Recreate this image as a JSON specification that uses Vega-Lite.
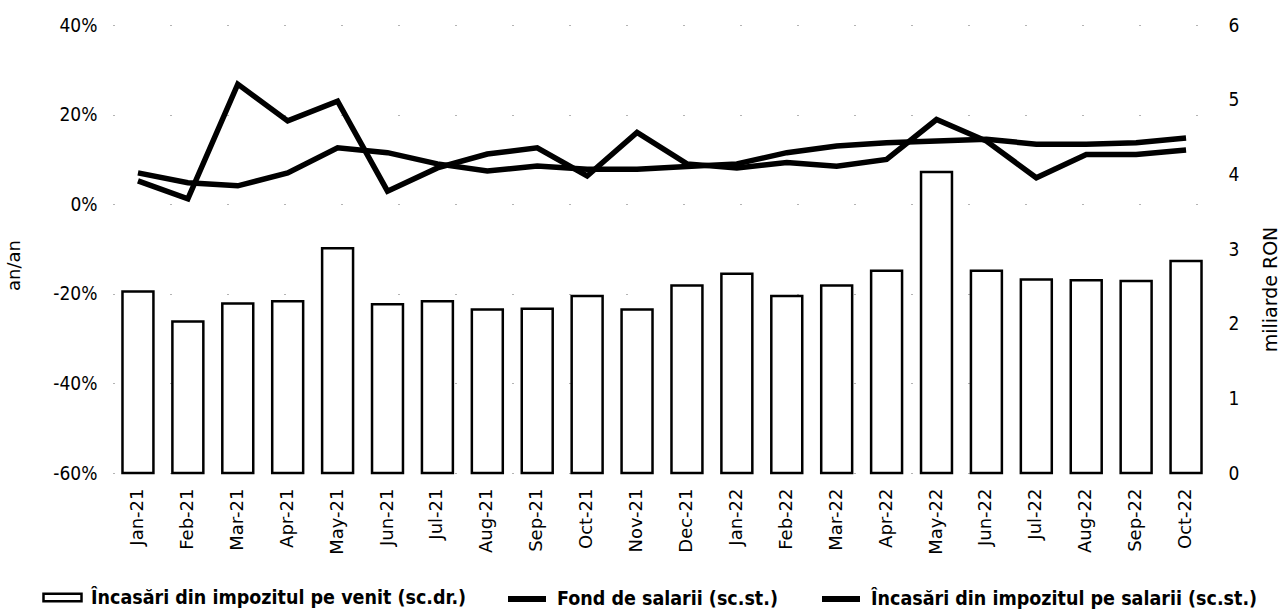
{
  "$schema": "https://vega.github.io/schema/vega-lite/v6.json",
  "description": "Încasări din impozitul pe venit și pe salarii, fond de salarii",
  "width": 1098,
  "height": 448,
  "autosize": {"type": "none"},
  "padding": {"left": 113, "top": 25, "right": 69, "bottom": 138},
  "background": "white",
  "config": {
    "view": {"stroke": null},
    "font": "DejaVu Sans Condensed",
    "legend": {
      "orient": "none",
      "direction": "horizontal",
      "columnPadding": 32,
      "symbolSize": 1444,
      "labelFont": "DejaVu Sans Condensed",
      "labelFontSize": 19.5,
      "labelFontWeight": "bold",
      "labelColor": "black",
      "labelLimit": 0,
      "labelOffset": 8
    }
  },
  "data": {
    "values": [
      {"luna": "Jan-21", "venit": 2.43, "fond": 7.0, "salarii": 5.2},
      {"luna": "Feb-21", "venit": 2.03, "fond": 4.8, "salarii": 1.2},
      {"luna": "Mar-21", "venit": 2.27, "fond": 4.1, "salarii": 26.8},
      {"luna": "Apr-21", "venit": 2.30, "fond": 7.0, "salarii": 18.6},
      {"luna": "May-21", "venit": 3.01, "fond": 12.6, "salarii": 23.0},
      {"luna": "Jun-21", "venit": 2.26, "fond": 11.5, "salarii": 2.9},
      {"luna": "Jul-21", "venit": 2.30, "fond": 9.0, "salarii": 8.1},
      {"luna": "Aug-21", "venit": 2.19, "fond": 7.4, "salarii": 11.2},
      {"luna": "Sep-21", "venit": 2.20, "fond": 8.5, "salarii": 12.6},
      {"luna": "Oct-21", "venit": 2.37, "fond": 7.8, "salarii": 6.3},
      {"luna": "Nov-21", "venit": 2.19, "fond": 7.8, "salarii": 16.0},
      {"luna": "Dec-21", "venit": 2.51, "fond": 8.4, "salarii": 9.0},
      {"luna": "Jan-22", "venit": 2.67, "fond": 9.0, "salarii": 8.1},
      {"luna": "Feb-22", "venit": 2.37, "fond": 11.5, "salarii": 9.3},
      {"luna": "Mar-22", "venit": 2.51, "fond": 13.0, "salarii": 8.5},
      {"luna": "Apr-22", "venit": 2.71, "fond": 13.7, "salarii": 10.0},
      {"luna": "May-22", "venit": 4.03, "fond": 14.1, "salarii": 18.9},
      {"luna": "Jun-22", "venit": 2.71, "fond": 14.5, "salarii": 14.1},
      {"luna": "Jul-22", "venit": 2.59, "fond": 13.4, "salarii": 5.9},
      {"luna": "Aug-22", "venit": 2.58, "fond": 13.4, "salarii": 11.1},
      {"luna": "Sep-22", "venit": 2.57, "fond": 13.7, "salarii": 11.1},
      {"luna": "Oct-22", "venit": 2.84, "fond": 14.8, "salarii": 12.1}
    ]
  },
  "encoding": {
    "x": {
      "field": "luna",
      "type": "nominal",
      "sort": null,
      "scale": {"paddingInner": 0.38, "paddingOuter": 0.19},
      "axis": {
        "title": null,
        "labelAngle": -90,
        "labelFont": "DejaVu Sans",
        "labelFontSize": 18,
        "labelColor": "black",
        "labelPadding": 15,
        "ticks": false,
        "domain": false,
        "grid": false
      }
    }
  },
  "layer": [
    {
      "mark": {"type": "bar", "stroke": "black", "strokeWidth": 2.5},
      "encoding": {
        "y": {
          "field": "venit",
          "type": "quantitative",
          "scale": {"domain": [0, 6], "nice": false},
          "axis": {
            "orient": "right",
            "values": [0, 1, 2, 3, 4, 5, 6],
            "title": "miliarde RON",
            "titleFont": "DejaVu Sans",
            "titleFontSize": 19,
            "titleFontWeight": "normal",
            "titleColor": "black",
            "titleAngle": -90,
            "titleAlign": "center",
            "titleBaseline": "middle",
            "titleX": 59,
            "titleY": 264,
            "labelFont": "DejaVu Sans Condensed",
            "labelFontSize": 19,
            "labelColor": "black",
            "labelPadding": 17,
            "ticks": false,
            "domain": false,
            "grid": false
          }
        },
        "fill": {
          "datum": "Încasări din impozitul pe venit (sc.dr.)",
          "scale": {"range": ["white"]},
          "legend": {
            "title": null,
            "legendX": -71,
            "legendY": 552,
            "symbolType": "M-1,-0.2H1V0.2H-1Z",
            "symbolStrokeColor": "black",
            "symbolStrokeWidth": 2.5
          }
        }
      }
    },
    {
      "encoding": {
        "y": {
          "type": "quantitative",
          "scale": {"domain": [-60, 40], "nice": false},
          "axis": {
            "orient": "left",
            "values": [-60, -40, -20, 0, 20, 40],
            "labelExpr": "datum.value + '%'",
            "title": "an/an",
            "titleFont": "DejaVu Sans",
            "titleFontSize": 18,
            "titleFontWeight": "normal",
            "titleColor": "black",
            "titleAngle": -90,
            "titleAlign": "center",
            "titleBaseline": "middle",
            "titleX": -99,
            "titleY": 240,
            "labelFont": "DejaVu Sans Condensed",
            "labelFontSize": 19,
            "labelColor": "black",
            "labelPadding": 16,
            "ticks": false,
            "domain": false,
            "grid": true,
            "gridColor": "#666666",
            "gridDash": [1, 56],
            "gridWidth": 1
          }
        }
      },
      "layer": [
        {
          "mark": {"type": "line", "strokeWidth": 5.5, "strokeJoin": "miter", "strokeCap": "butt"},
          "encoding": {
            "y": {"field": "fond", "type": "quantitative", "title": "an/an"},
            "color": {
              "datum": "Fond de salarii (sc.st.)",
              "scale": {
                "domain": ["Fond de salarii (sc.st.)", "Încasări din impozitul pe salarii (sc.st.)"],
                "range": ["black", "black"]
              },
              "legend": {
                "title": null,
                "legendX": 392,
                "legendY": 552,
                "columns": 2,
                "symbolType": "stroke",
                "symbolStrokeWidth": 6
              }
            }
          }
        },
        {
          "mark": {"type": "line", "strokeWidth": 5.5, "strokeJoin": "miter", "strokeCap": "butt"},
          "encoding": {
            "y": {"field": "salarii", "type": "quantitative", "title": "an/an"},
            "color": {
              "datum": "Încasări din impozitul pe salarii (sc.st.)",
              "legend": {
                "title": null,
                "legendX": 392,
                "legendY": 552,
                "columns": 2,
                "symbolType": "stroke",
                "symbolStrokeWidth": 6
              }
            }
          }
        }
      ]
    }
  ],
  "resolve": {"scale": {"y": "independent"}}
}
